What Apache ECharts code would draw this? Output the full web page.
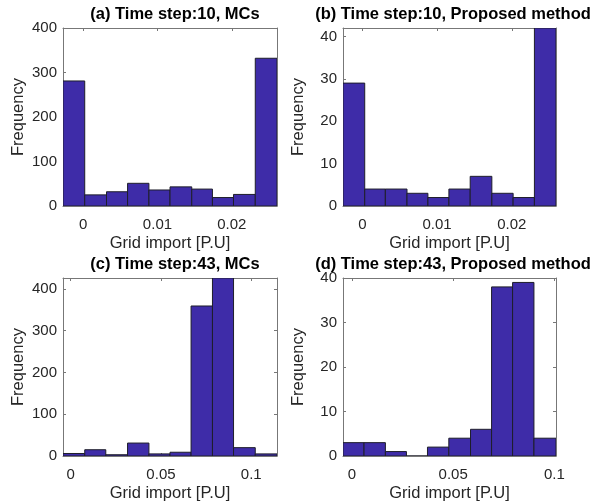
<!DOCTYPE html>
<html>
<head>
<meta charset="utf-8">
<script src="https://cdn.jsdelivr.net/npm/echarts@6/dist/echarts.min.js"></script>
<style>html,body{margin:0;padding:0;background:#fff;}#c{width:595px;height:504px;}</style>
</head>
<body>
<div id="c"></div>
<script>
// Histogram bin edges and counts
var edgesA = [-0.0027, 0.00022, 0.00315, 0.00598, 0.00885, 0.01169, 0.01461, 0.01739, 0.02022, 0.02315, 0.02607];
var countsA = [281, 25, 32, 51, 36, 43, 38, 19, 26, 332];
var edgesB = [-0.0026, 0.00031, 0.00307, 0.00597, 0.00877, 0.01158, 0.01443, 0.01733, 0.02018, 0.02303, 0.02592];
var countsB = [29, 4, 4, 3, 2, 4, 7, 3, 2, 42];
var edgesC = [-0.00426, 0.00778, 0.01944, 0.03148, 0.04333, 0.055, 0.06667, 0.07852, 0.09019, 0.10222, 0.11426];
var countsC = [6, 15, 3, 31, 5, 9, 359, 426, 20, 5];
var edgesD = [-0.00446, 0.00594, 0.0165, 0.0269, 0.0373, 0.04785, 0.05858, 0.06898, 0.07937, 0.08993, 0.10083];
var countsD = [3, 3, 1, 0, 2, 4, 6, 38, 39, 4];

var titles = ['(a) Time step:10, MCs', '(b) Time step:10, Proposed method',
              '(c) Time step:43, MCs', '(d) Time step:43, Proposed method'];
var xTicksTop = [0, 0.01, 0.02];
var xTicksBottom = [0, 0.05, 0.1];
var yTicksMC = [0, 100, 200, 300, 400];
var yTicksProp = [0, 10, 20, 30, 40];
var yMaxes = [400, 42, 426, 40];
var xName = 'Grid import [P.U]';
var yName = 'Frequency';

var panels = [
  {edges: edgesA, counts: countsA, xt: xTicksTop, yt: yTicksMC, ymax: yMaxes[0]},
  {edges: edgesB, counts: countsB, xt: xTicksTop, yt: yTicksProp, ymax: yMaxes[1]},
  {edges: edgesC, counts: countsC, xt: xTicksBottom, yt: yTicksMC, ymax: yMaxes[2]},
  {edges: edgesD, counts: countsD, xt: xTicksBottom, yt: yTicksProp, ymax: yMaxes[3]}
];

var gridPos = [
  {left: 63, top: 28, width: 214, height: 178},
  {left: 343, top: 28, width: 213, height: 178},
  {left: 63, top: 278, width: 214, height: 178},
  {left: 343, top: 278, width: 213, height: 178}
];
var titleCenters = [170, 448, 170, 448];

var FONT = 'Liberation Sans, Arial, Helvetica, sans-serif';
var txt = '#262626';
var boxColor = '#777777';

var option = {
  animation: false,
  backgroundColor: '#fff',
  title: [], grid: [], xAxis: [], yAxis: [], series: []
};

panels.forEach(function (p, i) {
  var g = gridPos[i];
  option.grid.push({left: g.left, top: g.top, width: g.width, height: g.height, containLabel: false});
  option.title.push({
    text: titles[i], left: titleCenters[i], top: g.top - 27, textAlign: 'center',
    textStyle: {fontFamily: FONT, fontWeight: 'bold', fontSize: 16.5, color: '#000'}
  });
  var xmin = p.edges[0], xmax = p.edges[p.edges.length - 1];
  var tickStyle = {show: true, inside: true, length: 3, lineStyle: {color: boxColor, width: 1}};
  // bottom x
  option.xAxis.push({
    type: 'value', gridIndex: i, position: 'bottom', min: xmin, max: xmax,
    name: xName, nameLocation: 'middle', nameGap: 29,
    nameTextStyle: {fontFamily: FONT, fontSize: 16.5, color: txt},
    axisLine: {show: true, onZero: false, lineStyle: {color: boxColor, width: 1}},
    axisTick: Object.assign({customValues: p.xt}, tickStyle),
    axisLabel: {customValues: p.xt, margin: 11, fontFamily: FONT, fontSize: 15, color: txt,
      formatter: function (v) { return String(+v.toFixed(4)); }},
    splitLine: {show: false}
  });
  // top x (box)
  option.xAxis.push({
    type: 'value', gridIndex: i, position: 'top', min: xmin, max: xmax,
    axisLine: {show: true, onZero: false, lineStyle: {color: boxColor, width: 1}},
    axisTick: Object.assign({customValues: p.xt}, tickStyle),
    axisLabel: {show: false}, splitLine: {show: false}
  });
  // left y
  option.yAxis.push({
    type: 'value', gridIndex: i, position: 'left', min: 0, max: p.ymax,
    name: yName, nameLocation: 'middle', nameGap: 36, nameRotate: 90,
    nameTextStyle: {fontFamily: FONT, fontSize: 16.5, color: txt},
    axisLine: {show: true, onZero: false, lineStyle: {color: boxColor, width: 1}},
    axisTick: Object.assign({customValues: p.yt}, tickStyle),
    axisLabel: {customValues: p.yt, margin: 6, fontFamily: FONT, fontSize: 15, color: txt},
    splitLine: {show: false}
  });
  // right y (box)
  option.yAxis.push({
    type: 'value', gridIndex: i, position: 'right', min: 0, max: p.ymax,
    axisLine: {show: true, onZero: false, lineStyle: {color: boxColor, width: 1}},
    axisTick: Object.assign({customValues: p.yt}, tickStyle),
    axisLabel: {show: false}, splitLine: {show: false}
  });
  var data = p.counts.map(function (c, k) { return [p.edges[k], p.edges[k + 1], c]; });
  option.series.push({
    type: 'custom', xAxisIndex: i * 2, yAxisIndex: i * 2,
    data: data, clip: true,
    renderItem: function (params, api) {
      var a = api.coord([api.value(0), api.value(2)]);
      var b = api.coord([api.value(1), 0]);
      return {
        type: 'rect',
        shape: {x: a[0], y: a[1], width: b[0] - a[0], height: b[1] - a[1]},
        style: {fill: '#3e2ca8', stroke: '#1e1e2a', lineWidth: 1}
      };
    }
  });
});

var chart = echarts.init(document.getElementById('c'), null, {renderer: 'canvas'});
chart.setOption(option);
</script>
</body>
</html>
